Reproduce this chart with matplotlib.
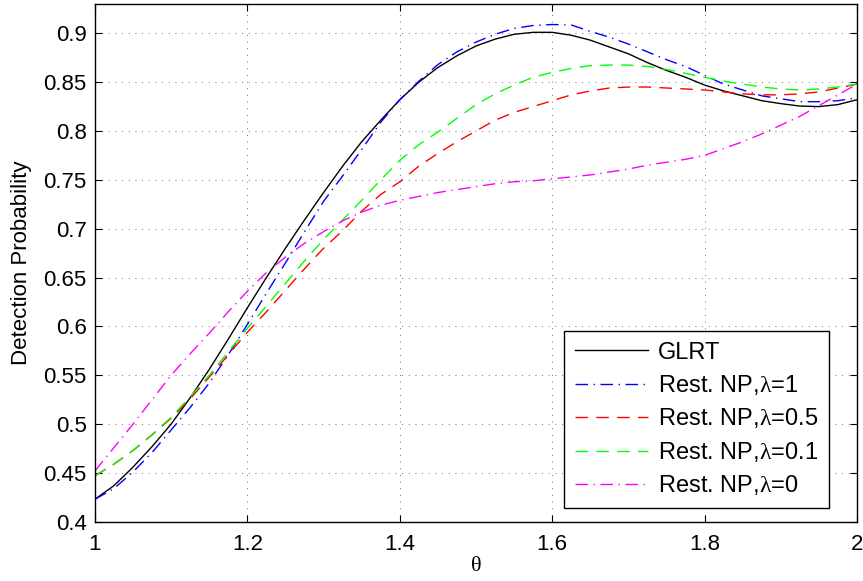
import matplotlib
matplotlib.use("Agg")
import matplotlib.pyplot as plt

plt.rcParams['font.family'] = ['Liberation Sans', 'DejaVu Sans']
plt.rcParams['mathtext.fontset'] = 'custom'
plt.rcParams['mathtext.rm'] = 'Liberation Serif'
plt.rcParams['mathtext.it'] = 'Liberation Serif'

theta = [1.000, 1.025, 1.050, 1.075, 1.100, 1.125, 1.150, 1.175, 1.200, 1.225,
         1.250, 1.275, 1.300, 1.325, 1.350, 1.375, 1.400, 1.425, 1.450, 1.475,
         1.500, 1.525, 1.550, 1.575, 1.600, 1.625, 1.650, 1.675, 1.700, 1.725,
         1.750, 1.775, 1.800, 1.825, 1.850, 1.875, 1.900, 1.925, 1.950, 1.975, 2.000]

glrt = [0.423, 0.437, 0.456, 0.477, 0.500, 0.527, 0.556, 0.587, 0.619, 0.650,
        0.680, 0.709, 0.737, 0.764, 0.789, 0.811, 0.832, 0.850, 0.865, 0.877,
        0.887, 0.894, 0.899, 0.901, 0.901, 0.898, 0.893, 0.886, 0.879, 0.870,
        0.862, 0.855, 0.847, 0.841, 0.836, 0.831, 0.828, 0.8255, 0.825, 0.827, 0.832]
np_l1 = [0.423, 0.434, 0.451, 0.471, 0.494, 0.517, 0.542, 0.571, 0.602, 0.634,
         0.665, 0.697, 0.728, 0.754, 0.781, 0.809, 0.832, 0.851, 0.868, 0.881,
         0.891, 0.899, 0.905, 0.908, 0.909, 0.9085, 0.902, 0.896, 0.889, 0.881,
         0.873, 0.866, 0.857, 0.848, 0.842, 0.836, 0.833, 0.830, 0.830, 0.831, 0.834]
np_l05 = [0.447, 0.459, 0.473, 0.489, 0.506, 0.526, 0.548, 0.571, 0.594, 0.615,
          0.637, 0.659, 0.680, 0.698, 0.718, 0.735, 0.748, 0.764, 0.777, 0.789,
          0.800, 0.811, 0.819, 0.825, 0.831, 0.837, 0.841, 0.844, 0.845, 0.845,
          0.844, 0.843, 0.842, 0.840, 0.838, 0.837, 0.837, 0.838, 0.840, 0.844, 0.848]
np_l01 = [0.447, 0.459, 0.473, 0.489, 0.507, 0.528, 0.550, 0.574, 0.598, 0.621,
          0.644, 0.667, 0.689, 0.709, 0.729, 0.750, 0.770, 0.786, 0.799, 0.813,
          0.827, 0.838, 0.847, 0.855, 0.860, 0.864, 0.867, 0.8675, 0.8675, 0.866,
          0.863, 0.859, 0.855, 0.851, 0.848, 0.845, 0.843, 0.842, 0.843, 0.845, 0.848]
np_l0 = [0.452, 0.476, 0.500, 0.525, 0.550, 0.572, 0.593, 0.615, 0.636, 0.655,
         0.671, 0.685, 0.697, 0.708, 0.717, 0.724, 0.729, 0.733, 0.737, 0.740,
         0.743, 0.746, 0.748, 0.749, 0.751, 0.753, 0.755, 0.758, 0.761, 0.765,
         0.768, 0.771, 0.775, 0.782, 0.789, 0.797, 0.806, 0.815, 0.826, 0.837, 0.848]

labels = ['GLRT', r'Rest. NP,$\mathrm{\lambda}$=1', r'Rest. NP,$\mathrm{\lambda}$=0.5',
          r'Rest. NP,$\mathrm{\lambda}$=0.1', r'Rest. NP,$\mathrm{\lambda}$=0']
xticks = [1.0, 1.2, 1.4, 1.6, 1.8, 2.0]
xticklabels = ['1', '1.2', '1.4', '1.6', '1.8', '2']
yticks = [0.4, 0.45, 0.5, 0.55, 0.6, 0.65, 0.7, 0.75, 0.8, 0.85, 0.9]
yticklabels = ['0.4', '0.45', '0.5', '0.55', '0.6', '0.65', '0.7', '0.75', '0.8', '0.85', '0.9']

fig = plt.figure(figsize=(8.63, 5.81), dpi=100)
ax = fig.add_axes([95/863, 1 - 521.7/581, (857-95)/863, (521.7-4)/581])

dashdot = (0, (9, 4, 1, 4))
dashed = (0, (9, 6))
lw = 1.0
ax.plot(theta, glrt, color='black', lw=lw, ls='-', label=labels[0])
ax.plot(theta, np_l1, color=(0, 0, 1), lw=lw, ls=dashdot, label=labels[1])
ax.plot(theta, np_l05, color=(1, 0, 0), lw=lw, ls=dashed, label=labels[2])
ax.plot(theta, np_l01, color=(0, 1, 0), lw=lw, ls=dashed, label=labels[3])
ax.plot(theta, np_l0, color=(1, 0, 1), lw=lw, ls=dashdot, label=labels[4])

ax.set_xlim(1, 2)
ax.set_ylim(0.4, 0.93)
ax.set_xticks(xticks)
ax.set_xticklabels(xticklabels)
ax.set_yticks(yticks)
ax.set_yticklabels(yticklabels)
ax.tick_params(direction='in', top=True, right=True, length=5, width=0.8,
               labelsize=16)
ax.tick_params(axis='x', pad=9)
ax.tick_params(axis='y', pad=6)
for s in ax.spines.values():
    s.set_linewidth(1.0)
ax.grid(True, color='#444444', lw=0.6, ls=(0, (1, 7)))

ax.set_xlabel('θ', fontsize=16, labelpad=1, family=['Liberation Serif', 'DejaVu Serif'])
ax.set_ylabel('Detection Probability', fontsize=16, labelpad=8)

leg = ax.legend(loc='lower right', bbox_to_anchor=(0.963, 0.0265), fontsize=17,
                frameon=True, fancybox=False, edgecolor='black', framealpha=1,
                handlelength=3.1, handletextpad=0.42, labelspacing=0.4,
                borderpad=0.45, borderaxespad=0)
leg.get_frame().set_linewidth(1.0)

fig.savefig('out.png', dpi=100)
